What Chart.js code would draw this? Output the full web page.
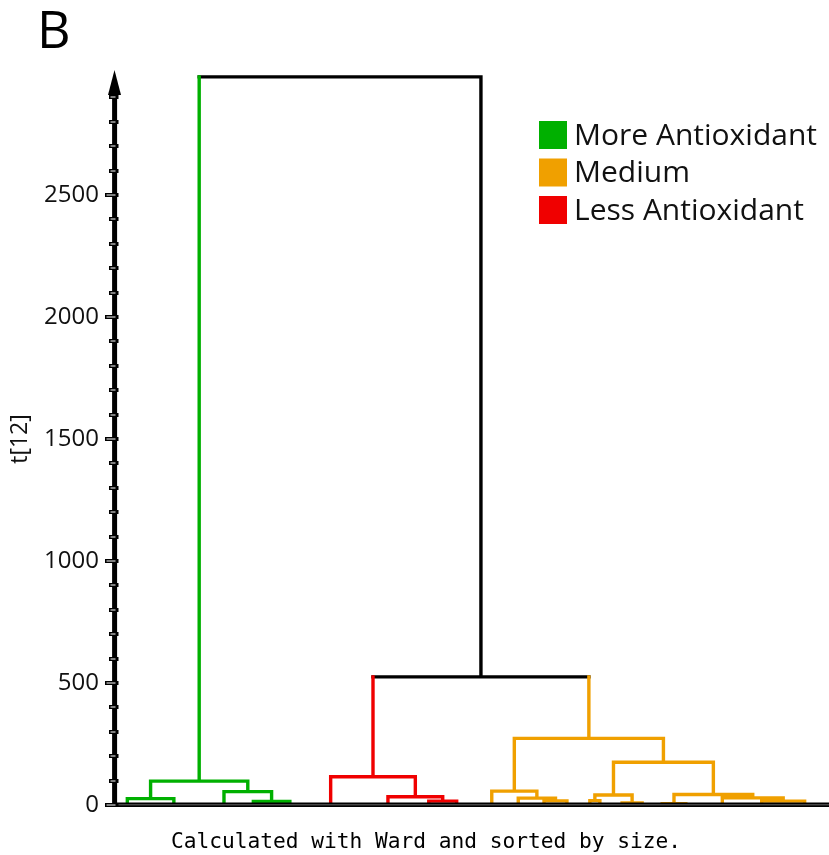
<!DOCTYPE html>
<html><head><meta charset="utf-8">
<script src="https://cdn.jsdelivr.net/npm/chart.js@4"></script>
<style>html,body{margin:0;padding:0;background:#fff;}#wrap{width:829px;height:855px;position:relative;}</style>
</head><body><div id="wrap"><canvas id="c" width="829" height="855"></canvas></div>
<script>
// ---- data ----
const groupLabels = ['More Antioxidant', 'Medium', 'Less Antioxidant'];
const groupColors = ['#00b000', '#f0a000', '#f00000'];
const joinColor = '#000000';
const yTickValues = [0, 500, 1000, 1500, 2000, 2500];
const yTickLabels = ['0', '500', '1000', '1500', '2000', '2500'];
const yAxisTitle = 't[12]';
const footnote = 'Calculated with Ward and sorted by size.';
const panelLetter = 'B';
// leaf (terminal cluster) positions in leaf order, and their group (0 green, 1 orange, 2 red)
const leafX =     [2.0, 8.5, 15.5, 19.6, 24.7, 30.4, 38.4, 44.1, 48.0, 52.9, 56.6, 60.2, 63.4, 66.6, 68.0, 71.1, 73.9, 76.7, 80.0, 85.1, 90.6, 96.6];
const leafGroup = [0,   0,   0,    0,    0,    2,    2,    2,    2,    1,    1,    1,    1,    1,    1,    1,    1,    1,    1,    1,    1,    1];
// Ward linkage: child ids (< leaves = leaf, else leaves + merge index) and merge height
const mergeA = [0, 3, 2, 22, 7, 6, 5, 11, 10, 9, 13, 15, 32, 17, 20, 19, 35, 34, 31, 28, 25];
const mergeB = [1, 4, 23, 24, 8, 26, 27, 12, 29, 30, 14, 16, 33, 18, 21, 36, 37, 38, 39, 40, 41];
const mergeH = [26, 15, 55, 98, 16, 34, 116, 17, 28, 57, 18, 8, 41, 5, 16, 29, 43, 175, 273, 525, 2984];

// ---- build segments from the linkage ----
const nLeaf = leafX.length;
const nodeX = leafX.slice(), nodeH = leafX.map(() => 0), nodeC = leafGroup.slice();
const segs = { 0: [], 1: [], 2: [], k: [] };
function addSeg(key, pts) {
  const a = segs[key];
  if (a.length) a.push({ x: pts[0].x, y: null });
  a.push(...pts);
}
for (let k = 0; k < mergeH.length; k++) {
  const a = mergeA[k], b = mergeB[k], h = mergeH[k];
  const xa = nodeX[a], xb = nodeX[b];
  const ca = nodeC[a], cb = nodeC[b];
  const c = (ca === cb) ? ca : 'k';
  if (ca === c && cb === c) {
    addSeg(c, [{ x: xa, y: nodeH[a] }, { x: xa, y: h }, { x: xb, y: h }, { x: xb, y: nodeH[b] }]);
  } else {
    addSeg(ca, [{ x: xa, y: nodeH[a] }, { x: xa, y: h }]);
    addSeg(c, [{ x: xa, y: h }, { x: xb, y: h }]);
    addSeg(cb, [{ x: xb, y: h }, { x: xb, y: nodeH[b] }]);
  }
  nodeX.push((xa + xb) / 2); nodeH.push(h); nodeC.push(c);
}
const colorOf = key => key === 'k' ? joinColor : groupColors[key];
const datasets = Object.keys(segs).filter(k => segs[k].length).map(k => ({
  data: segs[k], borderColor: colorOf(k), borderWidth: 3.4, showLine: true,
  pointRadius: 0, spanGaps: false, borderCapStyle: 'square', borderJoinStyle: 'miter', fill: false
}));

// ---- decorations plugin: axes look, legend, letter, footnote ----
const deco = {
  id: 'deco',
  afterDatasetsDraw(chart) {
    const ctx = chart.ctx, ys = chart.scales.y, area = chart.chartArea;
    const ax = area.left + 1.5; // axis line center
    const y0 = ys.getPixelForValue(0);
    ctx.save();
    // x axis line
    ctx.fillStyle = '#000';
    ctx.fillRect(area.left, y0 - 2.5, area.right - area.left, 4.5);
    ctx.fillStyle = '#666';
    ctx.fillRect(area.left, y0 - 0.7, area.right - area.left, 1);
    // y axis line
    const yTop = ys.getPixelForValue(2920);
    ctx.fillStyle = '#000';
    ctx.fillRect(ax - 2.4, yTop, 5, y0 + 2 - yTop);
    // arrow
    const tip = ys.getPixelForValue(ys.max) - 3;
    ctx.beginPath();
    ctx.moveTo(ax, tip); ctx.lineTo(ax - 6.5, tip + 25); ctx.lineTo(ax + 6.5, tip + 25); ctx.closePath();
    ctx.fill();
    // ticks every 100, major every 500
    for (let v = 0; v <= 2900; v += 100) {
      const p = Math.round(ys.getPixelForValue(v));
      const major = v % 500 === 0;
      const x1 = major ? ax - 9.5 : ax - 5.5;
      ctx.fillStyle = '#000';
      ctx.fillRect(x1, p - 2, ax + 4 - x1, 4);
      ctx.fillStyle = '#fff';
      ctx.fillRect(x1 + 1.5, p - 0.5, ax + 1 - (x1 + 1.5), 1);
    }
    // legend
    ctx.textBaseline = 'middle'; ctx.textAlign = 'left';
    ctx.font = '30px "Open Sans"';
    groupLabels.forEach((lab, i) => {
      const top = 121 + i * 37.5;
      ctx.fillStyle = groupColors[i];
      ctx.fillRect(539, top, 28, 28);
      ctx.fillStyle = '#111';
      ctx.fillText(lab, 574, top + 15);
    });
    // panel letter
    ctx.textBaseline = 'alphabetic';
    ctx.font = '52px "Open Sans"';
    ctx.fillStyle = '#000';
    ctx.fillText(panelLetter, 37, 48);
    // footnote
    ctx.font = '21.2px "DejaVu Sans Mono"';
    ctx.textAlign = 'center';
    ctx.fillText(footnote, 426, 848);
    ctx.restore();
  }
};

new Chart(document.getElementById('c'), {
  type: 'scatter',
  data: { datasets },
  options: {
    responsive: false, animation: false, devicePixelRatio: 1,
    layout: { padding: { top: 73, bottom: 50, left: 0, right: 0 } },
    plugins: { legend: { display: false }, tooltip: { enabled: false } },
    scales: {
      x: { type: 'linear', min: 0, max: 100, display: false },
      y: {
        type: 'linear', min: 0, max: 3000,
        afterBuildTicks: s => { s.ticks = yTickValues.map(v => ({ value: v })); },
        afterFit: s => { s.width = 113; },
        grid: { display: false, drawTicks: false },
        border: { display: false },
        ticks: {
          font: { family: 'Open Sans', size: 24 }, color: '#111', padding: 14,
          callback: (v) => { const i = yTickValues.indexOf(v); return i >= 0 ? yTickLabels[i] : ''; }
        },
        title: { display: true, text: yAxisTitle, color: '#111', font: { family: 'Open Sans', size: 23 }, padding: { top: 7, bottom: 0 } }
      }
    }
  },
  plugins: [deco]
});
</script></body></html>
